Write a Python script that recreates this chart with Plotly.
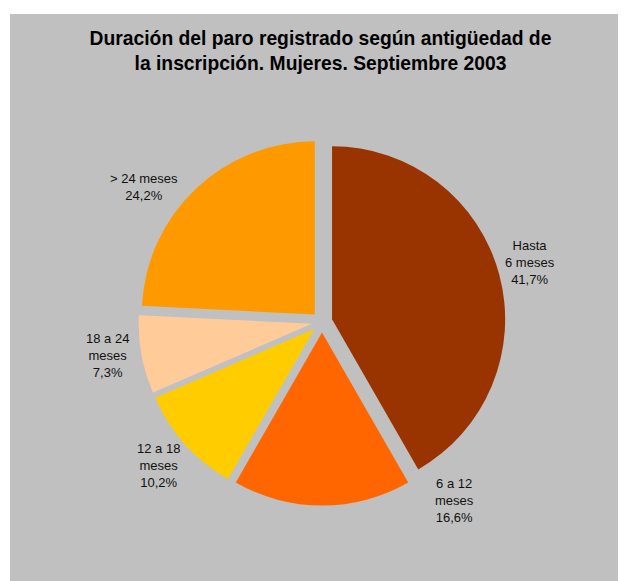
import plotly.graph_objects as go

categories = ["Hasta 6 meses", "6 a 12 meses", "12 a 18 meses", "18 a 24 meses", "> 24 meses"]
values = [41.7, 16.6, 10.2, 7.3, 24.2]
label_texts = ["Hasta<br>6 meses<br>41,7%", "6 a 12<br>meses<br>16,6%", "12 a 18<br>meses<br>10,2%",
               "18 a 24<br>meses<br>7,3%", "> 24 meses<br>24,2%"]
colors = ["#993300", "#FF6600", "#FFCC00", "#FFCC99", "#FF9900"]

W, H = 626, 581
OFF = 8  # page body margin
# label anchor positions (screen pixels) for the outside labels
label_px = [(530, 262), (454, 500), (158, 465), (107, 355), (144, 187)]
cx, cy, R = 322 - OFF, 322 - OFF, 183.5

fig = go.Figure(go.Pie(
    labels=categories, values=values, sort=False, direction="clockwise", rotation=0,
    marker=dict(colors=colors, line=dict(width=0)),
    pull=[0.06] * len(values), textinfo="none", hoverinfo="label+percent",
    showlegend=False,
    domain=dict(x=[(cx - R) / W, (cx + R) / W], y=[(H - cy - R) / H, (H - cy + R) / H]),
))

fig.add_shape(type="rect", xref="paper", yref="paper", x0=(10 - OFF) / W, x1=1, y0=0, y1=1 - (14 - OFF) / H,
              fillcolor="#C0C0C0", line=dict(width=0), layer="below")

for t, (px, py) in zip(label_texts, label_px):
    fig.add_annotation(text=t, xref="paper", yref="paper", x=(px - OFF) / W, y=1 - (py - OFF) / H,
                       xanchor="center", yanchor="middle", showarrow=False,
                       font=dict(family="Liberation Sans, Arial", size=13, color="#111111"))

fig.update_layout(
    width=W, height=H, margin=dict(l=0, r=0, t=0, b=0),
    paper_bgcolor="white", plot_bgcolor="#C0C0C0",
    title=dict(text="<b>Duración del paro registrado según antigüedad de<br>la inscripción. Mujeres. Septiembre 2003</b>",
               x=(320.5 - OFF) / W, xanchor="center", y=1 - 37 / H, yanchor="top",
               font=dict(family="Liberation Sans, Arial", size=19.3, color="black")),
)

fig.write_html("out.html")
